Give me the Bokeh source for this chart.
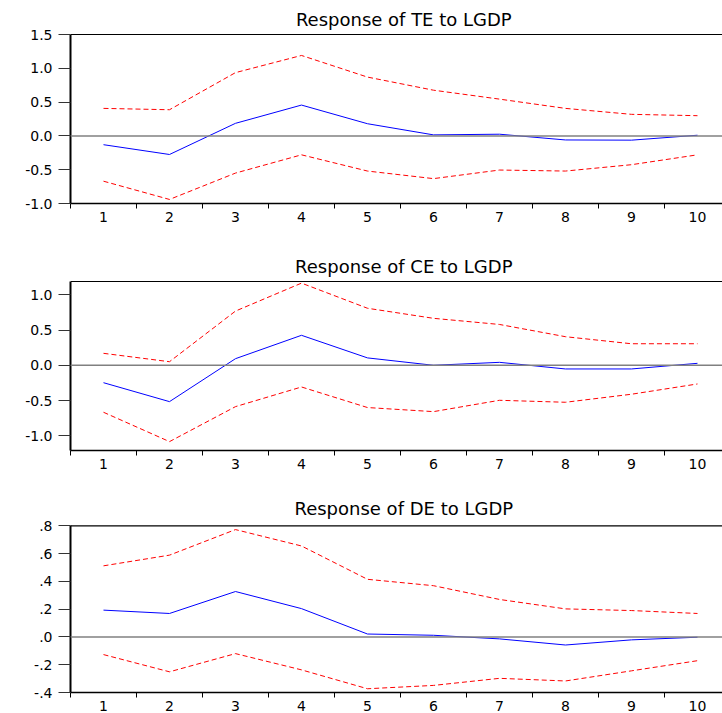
from bokeh.plotting import figure
from bokeh.layouts import column
from bokeh.models import Range1d, FixedTicker, Span, CustomJSTickFormatter, Label
from bokeh.embed import file_html
from bokeh.resources import INLINE

periods = list(range(1, 11))

te_resp = [-0.13, -0.275, 0.186, 0.456, 0.18, 0.015, 0.025, -0.06, -0.063, 0.01]
te_upper = [0.407, 0.387, 0.936, 1.19, 0.87, 0.676, 0.544, 0.407, 0.319, 0.299]
te_lower = [-0.67, -0.94, -0.55, -0.28, -0.52, -0.632, -0.505, -0.52, -0.426, -0.28]

ce_resp = [-0.247, -0.516, 0.094, 0.426, 0.105, 0.0, 0.042, -0.052, -0.052, 0.028]
ce_upper = [0.17, 0.051, 0.77, 1.167, 0.81, 0.667, 0.58, 0.406, 0.306, 0.306]
ce_lower = [-0.667, -1.084, -0.587, -0.308, -0.6, -0.658, -0.497, -0.525, -0.411, -0.265]

de_resp = [0.193, 0.169, 0.327, 0.204, 0.021, 0.012, -0.014, -0.058, -0.021, -0.002]
de_upper = [0.512, 0.589, 0.773, 0.655, 0.415, 0.369, 0.27, 0.202, 0.19, 0.169]
de_lower = [-0.127, -0.251, -0.12, -0.237, -0.373, -0.349, -0.298, -0.317, -0.244, -0.171]

titles = ["Response of TE to LGDP", "Response of CE to LGDP", "Response of DE to LGDP"]
y_ticks_1 = [-1.0, -0.5, 0.0, 0.5, 1.0, 1.5]
y_ticks_2 = [-1.0, -0.5, 0.0, 0.5, 1.0]
y_ticks_3 = [-0.4, -0.2, 0.0, 0.2, 0.4, 0.6, 0.8]
x_boundaries = [0.5 + i for i in range(10)]

FONT = "DejaVu Sans"


def make_panel(title, resp, upper, lower, yr, yticks, fmt_code, top, frame_h, bottom):
    lo, hi = yr
    ext_hi = hi + top * (hi - lo) / frame_h
    p = figure(width=722, height=top + frame_h + bottom, output_backend="svg",
               toolbar_location=None,
               x_range=Range1d(0.5, 10.379), y_range=Range1d(lo, ext_hi),
               min_border_left=70, min_border_right=0,
               min_border_top=0, min_border_bottom=bottom)
    p.outline_line_color = None
    p.grid.visible = False
    p.background_fill_color = "white"
    p.border_fill_color = "white"

    p.add_layout(Label(x=5.55, y=frame_h + 15, x_units="data", y_units="screen", text=title,
                       text_align="center", text_baseline="alphabetic",
                       text_font=FONT, text_font_size="18px", text_color="black"))

    p.add_layout(Span(location=0, dimension="width", line_color="#808080", line_width=1.5))
    p.add_layout(Span(location=hi, dimension="width", line_color="black", line_width=1.2))

    p.line(periods, upper, line_color="#FF0000", line_width=1, line_dash="5 3")
    p.line(periods, lower, line_color="#FF0000", line_width=1, line_dash="5 3")
    p.line(periods, resp, line_color="#0000FF", line_width=1)

    xa = p.xaxis[0]
    xa.ticker = FixedTicker(ticks=periods, minor_ticks=x_boundaries)
    xa.major_tick_out = 0
    xa.major_tick_in = 0
    xa.minor_tick_out = 5
    xa.minor_tick_in = 0
    xa.minor_tick_line_color = "black"
    xa.axis_line_color = "black"
    xa.axis_line_width = 1.5
    xa.major_label_standoff = 3
    xa.major_label_text_font = FONT
    xa.major_label_text_font_size = "14px"
    xa.major_label_text_color = "black"

    ya = p.yaxis[0]
    ya.ticker = FixedTicker(ticks=yticks)
    ya.formatter = CustomJSTickFormatter(code=fmt_code)
    ya.bounds = (lo, hi)
    ya.major_tick_out = 12
    ya.major_tick_in = 0
    ya.minor_tick_out = 0
    ya.minor_tick_in = 0
    ya.axis_line_color = "black"
    ya.axis_line_width = 2
    ya.major_tick_line_color = "#333333"
    ya.major_label_standoff = 6
    ya.major_label_text_font = FONT
    ya.major_label_text_font_size = "14px"
    ya.major_label_text_color = "black"
    return p


fmt_std = "return tick.toFixed(1);"
fmt_short = "var s = tick.toFixed(1); return s.replace('0.', '.');"

p1 = make_panel(titles[0], te_resp, te_upper, te_lower, (-1.0, 1.5), y_ticks_1, fmt_std, 34, 169, 28)
p2 = make_panel(titles[1], ce_resp, ce_upper, ce_lower, (-1.21, 1.19), y_ticks_2, fmt_std, 50, 169, 28)
p3 = make_panel(titles[2], de_resp, de_upper, de_lower, (-0.4, 0.8), y_ticks_3, fmt_short, 48, 169, 18)

layout = column(p1, p2, p3, spacing=0)
open("out.html", "w").write(file_html(layout, INLINE))
